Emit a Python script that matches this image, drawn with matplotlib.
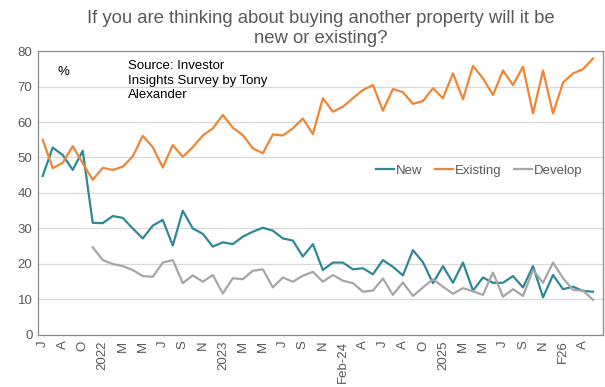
import numpy as np
import matplotlib
matplotlib.use("Agg")
from matplotlib import pyplot as plt

plt.rcParams['font.family'] = ['Liberation Sans', 'DejaVu Sans']

# survey share (%) by round
new = [44.8, 52.8, 50.7, 46.5, 51.9, 31.6, 31.5, 33.5, 33.0, 30.0,
       27.2, 30.8, 32.4, 25.2, 35.0, 30.0, 28.5, 24.9, 26.1, 25.6,
       27.7, 29.1, 30.2, 29.4, 27.2, 26.6, 22.1, 25.6, 18.3, 20.4,
       20.4, 18.5, 18.8, 17.1, 21.1, 19.2, 16.8, 23.9, 20.5, 14.6,
       19.4, 14.7, 20.4, 12.5, 16.2, 14.7, 14.7, 16.6, 13.4, 19.4,
       10.6, 16.9, 12.9, 13.6, 12.4, 12.2]
existing = [55.0, 47.0, 48.5, 53.2, 48.4, 43.7, 47.1, 46.5, 47.4, 50.3,
            56.1, 52.9, 47.2, 53.5, 50.2, 52.9, 56.2, 58.2, 62.0, 58.4,
            56.3, 52.6, 51.2, 56.5, 56.2, 58.2, 61.0, 56.6, 66.7, 62.9,
            64.3, 66.7, 69.0, 70.4, 63.2, 69.3, 68.4, 65.1, 65.9, 69.5,
            66.7, 73.7, 66.4, 75.8, 72.3, 67.6, 74.5, 70.4, 75.6, 62.4,
            74.5, 62.4, 71.1, 73.7, 74.9, 77.9]
develop = [np.nan] * 5 + [
    24.7, 21.1, 20.0, 19.4, 18.3, 16.6, 16.4, 20.4, 21.1, 14.6,
    16.8, 15.0, 16.9, 11.7, 16.0, 15.7, 18.1, 18.5, 13.4, 16.2,
    15.0, 16.7, 17.8, 15.0, 16.9, 15.3, 14.6, 12.2, 12.5, 15.9,
    11.3, 14.8, 11.0, 13.4, 15.7, 13.6, 11.6, 13.2, 12.3, 11.3,
    17.6, 10.8, 12.9, 11.0, 18.3, 14.7, 20.4, 16.0, 12.7, 12.5,
    9.9]

tick_labels = ['J', 'A', 'O', '2022', 'M', 'M', 'J', 'S', 'N', '2023',
               'M', 'M', 'J', 'S', 'N', 'Feb-24', 'A', 'J', 'A', 'O',
               '2025', 'M', 'M', 'J', 'S', 'N', 'F26', 'A']

x = np.arange(len(new))
grey = '#595959'

fig = plt.figure(figsize=(6.05, 3.87), dpi=100)
ax = fig.add_axes([0.0628, 0.1344, 0.934, 0.7338])

ax.plot(x, new, color='#2E8898', lw=1.6, label='New')
ax.plot(x, existing, color='#F08535', lw=1.6, label='Existing')
ax.plot(x, develop, color='#A6A6A6', lw=1.6, label='Develop')

ax.set_xlim(-0.47, 56.0)
ax.set_ylim(0, 80)
ax.set_yticks(range(0, 81, 10))
ax.set_xticks(x[::2])
ax.set_xticklabels(tick_labels, rotation=90)
ax.tick_params(length=0, labelsize=9.5, labelcolor=grey, pad=4)
ax.grid(axis='y', color='#D9D9D9', lw=0.9)
ax.set_axisbelow(True)
for s in ax.spines.values():
    s.set_color('#8C8C8C')
    s.set_linewidth(0.9)

ax.set_title('If you are thinking about buying another property will it be\nnew or existing?',
             fontsize=13.3, color=grey, pad=6, linespacing=1.2)

ax.text(0.035, 0.915, '%', transform=ax.transAxes, fontsize=9.5, color='black')
ax.text(0.159, 0.968, 'Source: Investor\nInsights Survey by Tony\nAlexander',
        transform=ax.transAxes, fontsize=9.5, va='top', linespacing=1.3)

leg = ax.legend(loc='center left', bbox_to_anchor=(0.578, 0.578), ncol=3, frameon=False,
                fontsize=9.5, handlelength=1.3, handletextpad=0.15, columnspacing=1.0)
for t in leg.get_texts():
    t.set_color(grey)

fig.savefig('out.png', dpi=100)
